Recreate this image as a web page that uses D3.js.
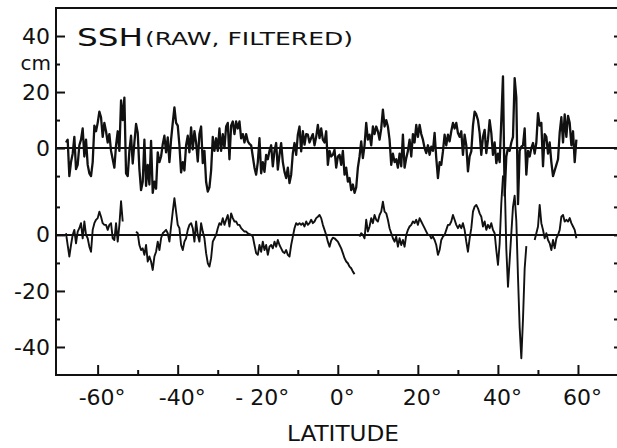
<!DOCTYPE html>
<html>
<head>
<meta charset="utf-8">
<script src="https://cdn.jsdelivr.net/npm/d3@7"></script>
<style>
  body { margin: 0; background: #fff; }
  svg { display: block; font-family: 'DejaVu Sans', sans-serif; }
</style>
</head>
<body>
<svg width="617" height="448"></svg>
<script>
// profile sampled every 5/12 degree of latitude, from 67.9 S
const startLat = -67.9
const stepLat = 5 / 12
// the filtered profile sits 31 cm below the raw one on the same axis
const lowerOffset = 31

// raw SSH, cm
const rawSouth = [2, 3, -10, -5, -2, 4, -7.5, -6, 1, 3,
  7, -3, 3, -6, -9, -10, -5, 8, 6, 9,
  13, 11, 4, 9, 6, 2, 5, -1, -4, -7,
  1, 6, -1, 17, 10, 18, -9, -10, -1, 4.4,
  -5.5, 2, 8.6, 5.5, -7.5, -15, -12, 3, -13.5, -6,
  -13, 2.6, -16, -12, -14.5, -1.5, -5, -3, 1.4, 4.4,
  -1.5, 3.8, -5, 3, 9, 14.5, 9, 8, 1, -8.7,
  -5, -8, 1, 4.4, -1.5, 7.4, -0.5, 6]
const rawSouthTropic = [2, -4.8, 5, 7.7, -5.4, -1, -12, -15.5, -14, -8,
  4, -1, 3.5, -1, 7, -1, 5, 0, 7.7, 9,
  -4, 8, 9.5, 5, 9.5, 7, 9.5, 3.5, 5, 2,
  5, 2.4, 1.5, 1, -3, -7, -9.5, -5, 3.5, -9,
  -5, -8.5, -2.4, -4, -1, 1, -6.5, -1, 1.8, -7.7,
  -2.4, 1.8, -5, -8.5, -10.7, -7, -12.5, -9.5, -1.8, 1.8,
  -2.4, 4.8, 7.7, -1.2, 6, 1.2, 5, 4.8, 2, 3.6,
  5, 1, 4, 8.3, 3.6, 7, 3, 2, 6, -6,
  -1, -3, -2.4]
const rawNorthTropic = [-0.6, -7, -3, -2.4, -6, -1, -9.5, -7, -12, -10.7,
  -15, -13, -16, -14, -7, -3, 2.4, -3.6, 1, 9,
  3, 4.8, 1, 7.7, 5, 7.7, 6, 3, 7, 13.7,
  7.7, 10, 7.7, 3, -6, -2, -5, -4, -7, -2,
  -6.5, 4.8, -7, -3.6, -1, 3, -3, 5, 2, 8.3,
  4, 8.3, 5, 3, 0, -1.8, 1, -2.4, 0.5, -1,
  5.4, -3.6, -10.7, -5, -6, -1.2, 4.8, 1, 4.8, 2.4,
  6, 9, 7, 9, 5.4, 4, 6, -2.4, 4.8, 1,
  -8.3, -3, -1.2, 8]
const rawNorth = [13, 12, 10, 5.4, -2.4, 4, 6.5, -1.8, 3, 10,
  5.4, -2.4, 2, -5.4, -2, -5, 10, 25.6, -17, -3,
  0, -1, 2, 4, 25, 18, -20, -1, 0.5, 1,
  7, -9.5, -1, -3, 0, 1.8, -2, 2, 12.5, 8,
  9, -6.5, 5, 4, -2, 2, -5, -10, -8, -6,
  -4, 5.5, 11, 2, 12, 4, 11.5, 9, 1, 6,
  -5, 3]

// filtered SSH, cm (null = no data)
const filtSouth = [0.6, -3.6, -7.7, -3.6, 0, 1.8, -3, 1.2, 2.4, 4.2,
  -1.2, 4.8, 0, -1.2, -4.2, -6, 1.8, 4.2, 5.4, 6,
  8.3, 6.5, 4.2, 3.6, 3.6, 1.8, 3.6, 4.2, -1.2, -1.8,
  4.2, -2.4, 3.6, 12, 4.8, null, null, null, null, null,
  null, null, 1.2, 0.6, -3.6, -5.4, -4.8, -7.1, -3.6, -9.5,
  -7.7, -9.5, -12.5, -7.7, -6, -2.4, -5.4, -1.2, 0.6, 1.2,
  1.8, 0.6, -2.4, 3, 8.3, 13.1, 8.3, 3.6, 2.4, -3.6,
  -5.4, -2.4, -1.2, 1.8, 3.6, 4.2, 2.4, -2.4]
const filtSouthTropic = [4.8, 0, -2.4, 4.2, 1.2, -1.2, -6.5, -10.1, -11.3, -8.3,
  -2.4, -1.2, 0, 2.4, 4.2, 3.6, 6, 3.6, 5.4, 7.1,
  3, 7.7, 6, 4.8, 4.8, 3.6, 3.6, 2.4, 1.8, 1.2,
  1.2, 0.6, 0.3, 0, -0.6, -3.6, -6.5, -7.1, -3.6, -6,
  -2.4, -5.4, -3.6, -7.1, -4.2, -3.6, -4.8, -2.4, -4.2, -1.8,
  -3.6, -4.8, -6, -6.5, -5.4, -7.1, -7.7, -3.6, -0.6, 2.4,
  4.2, 3.6, 4.2, 3.6, 4.2, 3, 4.8, 3.6, 4.2, 5.4,
  4.2, 4.8, 6, 6.5, 7.1, 6, 3.6, 1.8, 0, -2.4,
  -4.2, -2, -1]
const filtNorthTropic = [-1.2, -1.8, -2.4, -3.6, -4.8, -6.5, -8.3, -9.5, -10.1, -11.3,
  -11.9, -13.1, -14, null, null, -0.6, 0.6, 0, -1.2, 5.4,
  1.2, 3, 6, 4.2, 7.1, 5.4, 4.8, 7.1, 8.3, 11.9,
  8.3, 7.7, 5.4, 2.4, 0.6, -1.2, -2.4, -0.6, -4.2, -1.2,
  -3.6, -1.8, -4.2, 0, 1.8, 3, 3.6, 4.8, 4.2, 5.4,
  3.6, 6, 4.8, 3.6, 2.4, 1.2, 0, 0, -1.2, -0.6,
  -1.8, -3.6, -7.1, -5.4, -1.8, -0.6, 0, 1.8, 3.6, 3.6,
  4.8, 7.1, 5.4, 3.6, 2.4, 3.6, 2.4, 4.2, 1.8, -2.4,
  -6, -1.2, 2.4, 8.3]
const filtNorth = [10.1, 10.7, 9.5, 7.7, 6.5, 3, 4.8, 1.8, 3.6, 2.4,
  4.2, 1.8, 0.6, -5.4, -10.7, -3, 11.3, 21, 20, -5,
  -18.5, -9, 0.6, 10, 14, 5, -15, -33, -44, -30,
  -12, -4, null, null, null, null, -1.8, 0.6, 3, 10.7,
  4.2, 1.8, -1.2, 0.6, -1.8, -3, -5.4, -1.8, -4.8, -1.2,
  0, 1.8, 6.5, 7.1, 4.8, 5.4, 4.8, 6, 4.2, 3,
  1.8, -1.2]

const xTicks = [-60, -40, -20, 0, 20, 40, 60]
const xLabels = ['-60°', '-40°', '- 20°', '0°', '20°', '40°', '60°']
const xMinor = [-50, -30, -10, 10, 30, 50]
const yUpperTicks = [40, 20, 0]
const yLowerTicks = [0, -20, -40]
const yUpperMinor = [30, 10, -10]
const yLowerMinor = [10, -10, -30]

let field = d3.select('svg')
let font = "'DejaVu Sans', sans-serif"

let x = d3.scaleLinear().domain([-70.4, 70.5]).range([56, 620])
let y = d3.scaleLinear().domain([-81, 50]).range([375, 8])

let raw = rawSouth.concat(rawSouthTropic, rawNorthTropic, rawNorth)
  .map((v, i) => ({ lat: startLat + i * stepLat, v: v }))
let filt = filtSouth.concat(filtSouthTropic, filtNorthTropic, filtNorth)
  .map((v, i) => ({ lat: startLat + i * stepLat, v: v === null ? null : v - lowerOffset }))

// frame
field.append('rect')
  .attr('x', x.range()[0])
  .attr('y', y.range()[1])
  .attr('width', x.range()[1] - x.range()[0])
  .attr('height', y.range()[0] - y.range()[1])
  .attr('fill', 'none')
  .attr('stroke', '#111')
  .attr('stroke-width', 2)

// zero lines
field.selectAll('line.zero')
  .data([0, -lowerOffset])
  .enter()
  .append('line')
  .attr('class', 'zero')
  .attr('x1', x.range()[0])
  .attr('x2', x.range()[1])
  .attr('y1', d => y(d))
  .attr('y2', d => y(d))
  .attr('stroke', '#111')
  .attr('stroke-width', 2)

let yMajor = yUpperTicks.concat(yLowerTicks.map(d => d - lowerOffset))
let yLabels = yUpperTicks.concat(yLowerTicks).map(String)
let yMinor = yUpperMinor.concat(yLowerMinor.map(d => d - lowerOffset))

let leftAxis = d3.axisLeft(y)
  .tickValues(yMajor)
  .tickFormat((d, i) => yLabels[i])
  .tickSizeInner(-9)
  .tickSizeOuter(0)
  .tickPadding(6)

field.append('g')
  .attr('id', 'y-axis')
  .attr('transform', `translate(${x.range()[0]}, 0)`)
  .call(leftAxis)

field.append('g')
  .attr('transform', `translate(${x.range()[0]}, 0)`)
  .call(d3.axisLeft(y).tickValues(yMinor).tickFormat('').tickSizeInner(-4).tickSizeOuter(0))

field.append('g')
  .attr('transform', `translate(${x.range()[1]}, 0)`)
  .call(d3.axisRight(y).tickValues(yMajor.concat(yMinor)).tickFormat('').tickSizeInner(-6).tickSizeOuter(0))

let bottomAxis = d3.axisBottom(x)
  .tickValues(xTicks)
  .tickFormat((d, i) => xLabels[i])
  .tickSizeInner(-10)
  .tickSizeOuter(0)
  .tickPadding(14)

field.append('g')
  .attr('id', 'x-axis')
  .attr('transform', `translate(0, ${y.range()[0]})`)
  .call(bottomAxis)

field.append('g')
  .attr('transform', `translate(0, ${y.range()[0]})`)
  .call(d3.axisBottom(x).tickValues(xMinor).tickFormat('').tickSizeInner(-5).tickSizeOuter(0))

field.selectAll('.domain').remove()
field.selectAll('.tick line').attr('stroke', '#111').attr('stroke-width', 2)
field.selectAll('.tick text')
  .attr('fill', '#111')
  .attr('font-family', font)
  .attr('font-size', 22)
field.selectAll('#x-axis .tick text').attr('dx', 4)

field.append('text')
  .text('cm')
  .attr('x', 51)
  .attr('y', 70)
  .attr('text-anchor', 'end')
  .attr('font-family', font)
  .attr('font-size', 20)
  .attr('fill', '#111')

// profiles
let line = d3.line()
  .defined(d => d.v !== null)
  .x(d => x(d.lat))
  .y(d => y(d.v))

field.append('path')
  .datum(raw)
  .attr('d', line)
  .attr('fill', 'none')
  .attr('stroke', '#111')
  .attr('stroke-width', 2.3)
  .attr('stroke-linejoin', 'round')

field.append('path')
  .datum(filt)
  .attr('d', line)
  .attr('fill', 'none')
  .attr('stroke', '#111')
  .attr('stroke-width', 1.9)
  .attr('stroke-linejoin', 'round')

// title
field.append('text')
  .text('SSH')
  .attr('x', 77)
  .attr('y', 46)
  .attr('font-family', font)
  .attr('font-size', 25)
  .attr('textLength', 66)
  .attr('lengthAdjust', 'spacingAndGlyphs')
  .attr('fill', '#111')

field.append('text')
  .text('(RAW, FILTERED)')
  .attr('x', 145)
  .attr('y', 45)
  .attr('font-family', font)
  .attr('font-size', 18)
  .attr('textLength', 208)
  .attr('lengthAdjust', 'spacingAndGlyphs')
  .attr('fill', '#111')

field.append('text')
  .text('LATITUDE')
  .attr('x', 343)
  .attr('y', 441)
  .attr('text-anchor', 'middle')
  .attr('font-family', font)
  .attr('font-size', 22)
  .attr('textLength', 112)
  .attr('lengthAdjust', 'spacingAndGlyphs')
  .attr('fill', '#111')
</script>
</body>
</html>
